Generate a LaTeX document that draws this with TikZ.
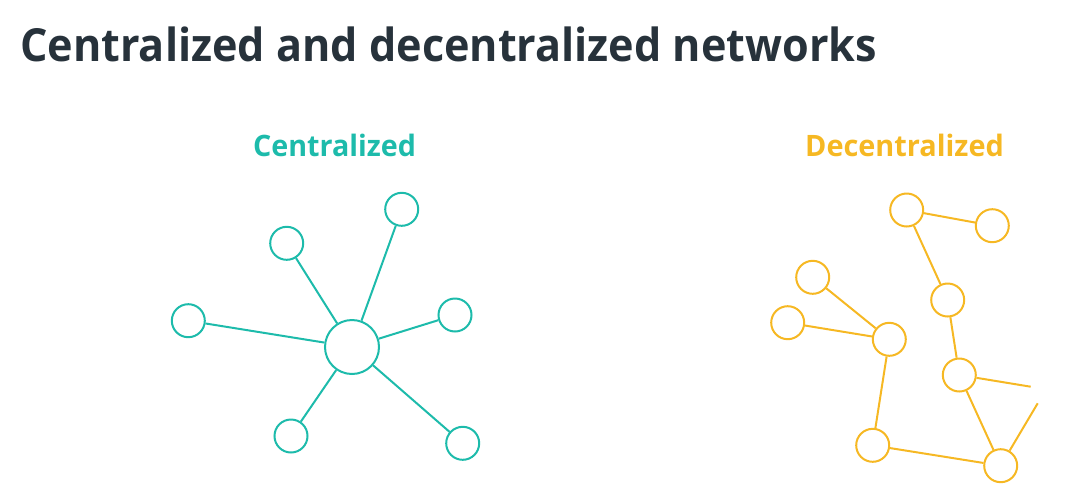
\documentclass[tikz,border=0pt]{standalone}
\usepackage{graphicx}
\usepackage{fontspec}
\setmainfont{Open Sans}
\definecolor{teal1}{HTML}{1DBBAB}
\definecolor{gold1}{HTML}{F6B823}
\definecolor{dark1}{HTML}{27323B}
\begin{document}
\begin{tikzpicture}[x=1pt,y=-1pt,
  cnode/.style={circle,draw=teal1,line width=2pt,minimum size=33pt,inner sep=0pt,fill=white},
  hub/.style={cnode,minimum size=54pt},
  dnode/.style={circle,draw=gold1,line width=2pt,minimum size=33pt,inner sep=0pt,fill=white},
  cedge/.style={draw=teal1,line width=2pt},
  dedge/.style={draw=gold1,line width=2pt},
  ttl/.style={anchor=base west,inner sep=0pt,text=dark1,font=\fontsize{45.6}{50}\selectfont\bfseries},
  sub/.style={anchor=base,inner sep=0pt,font=\fontsize{29.5}{34}\selectfont\bfseries}]
\useasboundingbox (0,0) rectangle (1069,499);
\node[ttl] (title) at (20,61.7) {\scalebox{0.946}[1]{Centralized and decentralized networks}};
\node[sub,text=teal1] (lc) at (334.5,156) {\scalebox{0.972}[1]{Centralized}};
\node[sub,text=gold1] (ld) at (904.5,156) {\scalebox{0.978}[1]{Decentralized}};
% centralized
\node[hub] (h) at (352,347) {};
\node[cnode] (c1) at (188.3,320.7) {};
\node[cnode] (c2) at (286.7,243.3) {};
\node[cnode] (c3) at (401.7,209.3) {};
\node[cnode] (c4) at (455,315) {};
\node[cnode] (c5) at (291,436) {};
\node[cnode] (c6) at (462.7,443.3) {};
\foreach \n in {c1,c2,c3,c4,c5,c6} \draw[cedge] (h) -- (\n);
% decentralized
\node[dnode] (a) at (906.7,210) {};
\node[dnode] (b) at (992.3,225.7) {};
\node[dnode] (c) at (812.7,277.3) {};
\node[dnode] (d) at (787.7,322.7) {};
\node[dnode] (e) at (889.3,339.3) {};
\node[dnode] (f) at (947.7,300) {};
\node[dnode] (g) at (959.3,375) {};
\node[dnode] (hh) at (872.7,445.3) {};
\node[dnode] (i) at (1000.7,465.7) {};
\coordinate (g2) at (1030.7,386.7);
\coordinate (i2) at (1037.7,403.3);
\draw[dedge] (a) -- (b);
\draw[dedge] (a) -- (f);
\draw[dedge] (f) -- (g);
\draw[dedge] (c) -- (e);
\draw[dedge] (d) -- (e);
\draw[dedge] (e) -- (hh);
\draw[dedge] (hh) -- (i);
\draw[dedge] (g) -- (i);
\draw[dedge] (g) -- (g2);
\draw[dedge] (i) -- (i2);
\end{tikzpicture}
\end{document}
